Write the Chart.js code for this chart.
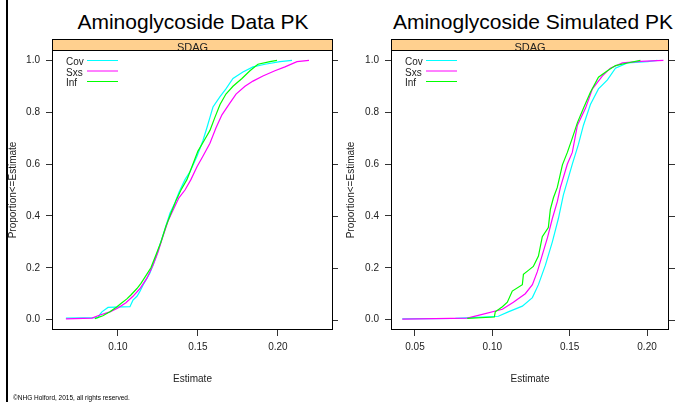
<!DOCTYPE html>
<html>
<head>
<meta charset="utf-8">
<script src="https://cdn.jsdelivr.net/npm/chart.js@4.4.0/dist/chart.umd.min.js"></script>
<style>
  body { margin: 0; background: #fff; }
  #page { position: relative; width: 676px; height: 402px; overflow: hidden; font-family: 'Liberation Sans', Arial, sans-serif; }
  .title { position: absolute; top: 11px; font-size: 21px; line-height: 21px; text-align: center; color: #000; white-space: nowrap; }
  #bar { position: absolute; left: 6px; top: 0; width: 2px; height: 402px; background: #000; }
  #footer { position: absolute; left: 13px; top: 395px; font-size: 6.5px; line-height: 6.5px; color: #000; white-space: nowrap; }
  canvas { position: absolute; top: 0; }
</style>
</head>
<body>
<div id="page">
  <div id="bar"></div>
  <div class="title" style="left:0;width:386px;">Aminoglycoside Data PK</div>
  <div class="title" style="left:390px;width:286px;">Aminoglycoside Simulated PK</div>
  <canvas id="dataPK" width="338" height="402" style="left:0"></canvas>
  <canvas id="simPK" width="338" height="402" style="left:338px"></canvas>
  <div id="footer">©NHG Holford, 2015, all rights reserved.</div>
</div>
<script>
// group names and colours
const groups = ['Cov', 'Sxs', 'Inf'];
const groupColors = ['#00FFFF', '#FF00FF', '#00FF00'];
const stripLabel = 'SDAG';

// tick labels
const yTicks = [0.0, 0.2, 0.4, 0.6, 0.8, 1.0];
const xTicksData = [0.10, 0.15, 0.20];
const xTicksSim = [0.05, 0.10, 0.15, 0.20];

// Data PK: estimate values and cumulative proportion
const dataCovX = [0.0675, 0.0875, 0.0888, 0.0900, 0.0938, 0.1075, 0.1094, 0.1119, 0.1138, 0.1163, 0.1200, 0.1231, 0.1263, 0.1294, 0.1325, 0.1356, 0.1381, 0.1419, 0.1450, 0.1494, 0.1531, 0.1556, 0.1575, 0.1594, 0.1638, 0.1675, 0.1719, 0.1781, 0.1844, 0.1919, 0.2013, 0.2088];
const dataCovP = [0.006, 0.008, 0.02, 0.03, 0.047, 0.05, 0.075, 0.09, 0.11, 0.14, 0.18, 0.23, 0.29, 0.35, 0.41, 0.45, 0.49, 0.54, 0.57, 0.63, 0.69, 0.74, 0.78, 0.82, 0.86, 0.89, 0.93, 0.955, 0.975, 0.985, 0.995, 1.0];
const dataSxsX = [0.0675, 0.0838, 0.0888, 0.0950, 0.1000, 0.1050, 0.1094, 0.1138, 0.1181, 0.1219, 0.1250, 0.1281, 0.1313, 0.1350, 0.1381, 0.1419, 0.1456, 0.1494, 0.1531, 0.1575, 0.1613, 0.1650, 0.1694, 0.1738, 0.1794, 0.1844, 0.1906, 0.1981, 0.2044, 0.2119, 0.2194];
const dataSxsP = [0.003, 0.006, 0.018, 0.03, 0.045, 0.065, 0.09, 0.12, 0.16, 0.21, 0.26, 0.32, 0.38, 0.43, 0.47, 0.5, 0.54, 0.59, 0.63, 0.68, 0.74, 0.79, 0.83, 0.87, 0.9, 0.92, 0.94, 0.96, 0.975, 0.995, 1.0];
const dataInfX = [0.0856, 0.0906, 0.0950, 0.0994, 0.1025, 0.1056, 0.1081, 0.1119, 0.1144, 0.1175, 0.1206, 0.1238, 0.1269, 0.1300, 0.1331, 0.1363, 0.1394, 0.1431, 0.1469, 0.1500, 0.1538, 0.1575, 0.1606, 0.1638, 0.1675, 0.1719, 0.1775, 0.1825, 0.1875, 0.1950, 0.1994];
const dataInfP = [0.004, 0.015, 0.03, 0.05, 0.065, 0.08, 0.095, 0.12, 0.14, 0.17, 0.2, 0.25, 0.3, 0.36, 0.41, 0.46, 0.5, 0.54, 0.6, 0.65, 0.69, 0.73, 0.78, 0.83, 0.87, 0.9, 0.93, 0.96, 0.985, 0.995, 1.0];

// Simulated PK
const simCovX = [0.0418, 0.0761, 0.1039, 0.1103, 0.1194, 0.1259, 0.1298, 0.1343, 0.1388, 0.1427, 0.1459, 0.1517, 0.1556, 0.1589, 0.1634, 0.1686, 0.1744, 0.1796, 0.1873, 0.2003, 0.2067];
const simCovP = [0.003, 0.005, 0.013, 0.03, 0.052, 0.085, 0.135, 0.21, 0.3, 0.39, 0.48, 0.6, 0.675, 0.75, 0.83, 0.89, 0.925, 0.97, 0.99, 0.995, 1.0];
const simSxsX = [0.0418, 0.0838, 0.0935, 0.1065, 0.1136, 0.1213, 0.1259, 0.1291, 0.1323, 0.1356, 0.1388, 0.1420, 0.1440, 0.1485, 0.1517, 0.1550, 0.1602, 0.1647, 0.1712, 0.1763, 0.1841, 0.1957, 0.2106];
const simSxsP = [0.002, 0.006, 0.02, 0.04, 0.067, 0.1, 0.135, 0.185, 0.25, 0.315, 0.39, 0.455, 0.51, 0.6, 0.645, 0.75, 0.815, 0.89, 0.94, 0.97, 0.99, 0.996, 1.0];
const simInfX = [0.0838, 0.1013, 0.1019, 0.1065, 0.1097, 0.1129, 0.1194, 0.1201, 0.1233, 0.1265, 0.1298, 0.1323, 0.1362, 0.1375, 0.1395, 0.1420, 0.1453, 0.1485, 0.1517, 0.1550, 0.1589, 0.1634, 0.1686, 0.1744, 0.1796, 0.1873, 0.1957];
const simInfP = [0.005, 0.01, 0.03, 0.05, 0.067, 0.11, 0.135, 0.175, 0.19, 0.205, 0.245, 0.32, 0.355, 0.425, 0.47, 0.51, 0.597, 0.645, 0.70, 0.76, 0.815, 0.877, 0.935, 0.96, 0.98, 0.99, 1.0];

const FONT = "'Liberation Sans', Arial, sans-serif";

function toPoints(xs, ps) {
    return xs.map((x, i) => ({ x: x, y: ps[i] }));
}

// strip, frame, right-hand ticks and in-panel key
const panelDecor = {
    id: 'panelDecor',
    afterDraw(chart) {
        const { ctx, chartArea: a, scales } = chart;
        const w = a.right - a.left;
        ctx.save();

        // strip above the panel
        ctx.fillStyle = '#FFD08F';
        ctx.fillRect(a.left, 39, w, a.top - 39);
        ctx.save();
        ctx.beginPath();
        ctx.rect(a.left, 39, w, a.top - 39);
        ctx.clip();
        ctx.fillStyle = '#222';
        ctx.font = '11px ' + FONT;
        ctx.textAlign = 'center';
        ctx.textBaseline = 'alphabetic';
        ctx.fillText(stripLabel, (a.left + a.right) / 2, 50.5);
        ctx.restore();
        ctx.strokeStyle = '#000';
        ctx.lineWidth = 1;
        ctx.strokeRect(a.left + 0.5, 39.5, w - 1, a.top - 39);

        // panel frame
        ctx.strokeRect(a.left + 0.5, a.top + 0.5, w - 1, a.bottom - a.top - 1);

        // ticks on the right side
        ctx.strokeStyle = '#333';
        yTicks.forEach(v => {
            const y = Math.round(scales.y.getPixelForValue(v)) + 0.5;
            ctx.beginPath();
            ctx.moveTo(a.right, y);
            ctx.lineTo(a.right + 6, y);
            ctx.stroke();
        });

        // key
        ctx.font = '10px ' + FONT;
        ctx.textAlign = 'left';
        ctx.textBaseline = 'alphabetic';
        groups.forEach((g, i) => {
            const y = 60.5 + i * 10.5;
            ctx.fillStyle = '#222';
            ctx.fillText(g, a.left + 14, y + 4.5);
            ctx.strokeStyle = groupColors[i];
            ctx.beginPath();
            ctx.moveTo(a.left + 35, y);
            ctx.lineTo(a.left + 66, y);
            ctx.stroke();
        });
        ctx.restore();
    }
};

function makePanel(canvasId, series, xMin, xMax, xTicks, rightPad) {
    const datasets = series.map((s, i) => ({
        label: groups[i],
        data: toPoints(s[0], s[1]),
        borderColor: groupColors[i],
        backgroundColor: groupColors[i],
        borderWidth: 1.2,
        pointRadius: 0,
        tension: 0,
        fill: false,
        order: groups.length - i
    }));

    return new Chart(document.getElementById(canvasId), {
        type: 'line',
        data: { datasets: datasets },
        options: {
            responsive: false,
            animation: false,
            events: [],
            devicePixelRatio: 1,
            layout: { padding: { left: 0, right: rightPad, top: 50, bottom: 0 } },
            plugins: {
                legend: { display: false },
                tooltip: { enabled: false }
            },
            scales: {
                x: {
                    type: 'linear',
                    min: xMin,
                    max: xMax,
                    afterBuildTicks: s => { s.ticks = xTicks.map(v => ({ value: v })); },
                    ticks: {
                        autoSkip: false,
                        maxRotation: 0,
                        padding: 5,
                        color: '#222',
                        font: { family: FONT, size: 10 },
                        callback: v => v.toFixed(2)
                    },
                    grid: { drawOnChartArea: false, tickLength: 6, tickColor: '#333' },
                    border: { display: false },
                    title: {
                        display: true,
                        text: 'Estimate',
                        color: '#222',
                        font: { family: FONT, size: 10 },
                        padding: { top: 0, bottom: 17 }
                    },
                    afterFit: s => { s.height = 72; }
                },
                y: {
                    type: 'linear',
                    min: -0.04,
                    max: 1.04,
                    afterBuildTicks: s => { s.ticks = yTicks.map(v => ({ value: v })); },
                    ticks: {
                        autoSkip: false,
                        padding: 6,
                        color: '#222',
                        font: { family: FONT, size: 10 },
                        callback: v => v.toFixed(1)
                    },
                    grid: { drawOnChartArea: false, tickLength: 6, tickColor: '#333' },
                    border: { display: false },
                    title: {
                        display: true,
                        text: 'Proportion<=Estimate',
                        color: '#222',
                        font: { family: FONT, size: 10 },
                        padding: { top: 7, bottom: 0 }
                    },
                    afterFit: s => { s.width = canvasId === 'simPK' ? 53 : 52; }
                }
            }
        },
        plugins: [panelDecor]
    });
}

makePanel('dataPK',
    [[dataCovX, dataCovP], [dataSxsX, dataSxsP], [dataInfX, dataInfP]],
    0.0588, 0.2344, xTicksData, 5);

makePanel('simPK',
    [[simCovX, simCovP], [simSxsX, simSxsP], [simInfX, simInfP]],
    0.0345, 0.2142, xTicksSim, 7);
</script>
</body>
</html>
